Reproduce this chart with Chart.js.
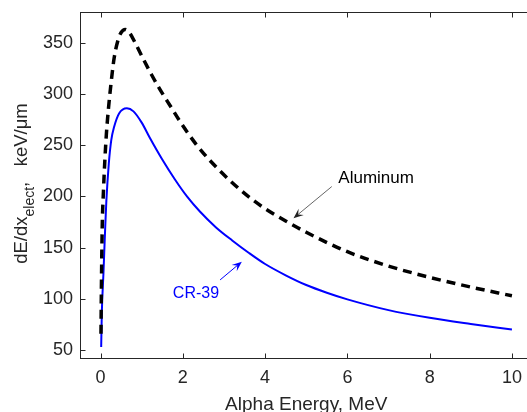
<!DOCTYPE html>
<html>
<head>
<meta charset="utf-8">
<script src="https://cdn.jsdelivr.net/npm/chart.js@4"></script>
<style>
    html, body { margin: 0; padding: 0; background: #fff; overflow: hidden; }
    #wrap { width: 540px; height: 412px; }
</style>
</head>
<body>
<div id="wrap"><canvas id="stoppingChart" width="540" height="412"></canvas></div>
<script>
// Alpha energy (MeV) vs electronic stopping power (keV/um)
const alEnergy   = [0.01, 0.02, 0.04, 0.07, 0.10, 0.14, 0.19, 0.24, 0.33, 0.42, 0.50, 0.60, 0.70, 0.84, 1.04, 1.25, 1.45, 1.70, 1.95, 2.35, 2.90, 3.50, 4.00, 4.50, 5.00, 6.00, 7.00, 8.00, 9.00, 10.0];
const alStopping = [66, 110, 170, 205, 232, 260, 285, 305, 335, 352, 360, 363, 360, 350, 334, 318, 304, 288, 272, 249.5, 225, 203, 188, 176, 165, 146, 132, 121, 111.5, 103];

const crEnergy   = [0.015, 0.03, 0.07, 0.11, 0.14, 0.20, 0.26, 0.33, 0.45, 0.64, 0.80, 1.00, 1.20, 1.50, 1.80, 2.10, 2.42, 2.80, 3.20, 3.60, 4.00, 4.50, 5.00, 5.50, 6.00, 7.00, 8.00, 9.00, 10.0];
const crStopping = [53, 86, 125, 167, 195, 232, 255, 268, 281, 286, 283, 272, 257, 236, 217, 200, 185, 170, 157, 145, 134, 123, 113.5, 106, 99.5, 89, 81.5, 75.5, 70];

const xTicks = [0, 2, 4, 6, 8, 10];
const yTicks = [50, 100, 150, 200, 250, 300, 350];

const xLabel = 'Alpha Energy, MeV';
const yLabel = ['dE/dx', 'elect', ',   keV/\u03bcm'];

// text callouts, placed in data units
const notes = [
    { text: 'Aluminum', at: [5.78, 213], from: [5.62, 209.6], to: [4.69, 178.7], color: '#000', line: '#666', head: '#222', size: 17 },
    { text: 'CR-39', at: [1.757, 100.6], from: [2.906, 118.5], to: [3.434, 136.3], color: '#0000ff', line: '#0000ff', head: '#0000ff', size: 16 }
];

const font = '"Liberation Sans", Arial, Helvetica, sans-serif';
const ink = '#262626';

function drawArrow(ctx, x0, y0, x1, y1, lineColor, headColor) {
    const a = Math.atan2(y1 - y0, x1 - x0);
    const c = Math.cos(a), s = Math.sin(a);
    const len = 10, half = 4;
    ctx.strokeStyle = lineColor;
    ctx.lineWidth = 1;
    ctx.beginPath();
    ctx.moveTo(x0, y0);
    ctx.lineTo(x1 - c * len * 0.6, y1 - s * len * 0.6);
    ctx.stroke();
    ctx.fillStyle = headColor;
    ctx.beginPath();
    ctx.moveTo(x1, y1);
    ctx.lineTo(x1 - len * c + half * s, y1 - len * s - half * c);
    ctx.lineTo(x1 - 0.6 * len * c, y1 - 0.6 * len * s);
    ctx.lineTo(x1 - len * c - half * s, y1 - len * s + half * c);
    ctx.closePath();
    ctx.fill();
}

const chrome = {
    id: 'chrome',
    beforeDatasetsDraw(chart) {
        const { ctx, chartArea: a, scales: { x, y } } = chart;
        ctx.save();
        ctx.strokeStyle = ink;
        ctx.lineWidth = 1;
        const L = Math.round(a.left) + 0.5, R = Math.round(a.right) - 0.5;
        const T = Math.round(a.top) + 0.5, B = Math.round(a.bottom) - 0.5;
        ctx.strokeRect(L, T, R - L, B - T);
        ctx.beginPath();
        xTicks.forEach(v => {
            const px = Math.round(x.getPixelForValue(v)) + 0.5;
            ctx.moveTo(px, B); ctx.lineTo(px, B - 5);
            ctx.moveTo(px, T); ctx.lineTo(px, T + 5);
        });
        yTicks.forEach(v => {
            const py = Math.round(y.getPixelForValue(v)) + 0.5;
            ctx.moveTo(L, py); ctx.lineTo(L + 5, py);
            ctx.moveTo(R, py); ctx.lineTo(R - 5, py);
        });
        ctx.stroke();
        ctx.restore();
    },
    afterDatasetsDraw(chart) {
        const { ctx, scales: { x, y } } = chart;
        ctx.save();
        notes.forEach(n => {
            drawArrow(ctx,
                x.getPixelForValue(n.from[0]), y.getPixelForValue(n.from[1]),
                x.getPixelForValue(n.to[0]), y.getPixelForValue(n.to[1]),
                n.line, n.head);
            ctx.fillStyle = n.color;
            ctx.font = n.size + 'px ' + font;
            ctx.textBaseline = 'alphabetic';
            ctx.textAlign = 'left';
            ctx.fillText(n.text, x.getPixelForValue(n.at[0]), y.getPixelForValue(n.at[1]));
        });
        ctx.restore();
    },
    afterDraw(chart) {
        const { ctx, chartArea: a } = chart;
        ctx.save();
        ctx.fillStyle = ink;
        ctx.textBaseline = 'alphabetic';

        // x title
        ctx.font = '19px ' + font;
        ctx.textAlign = 'center';
        ctx.fillText(xLabel, (a.left + a.right) / 2, 410);

        // y title with subscript, rotated
        ctx.textAlign = 'left';
        const mainFont = '18.5px ' + font, subFont = '14px ' + font;
        ctx.font = mainFont; const w0 = ctx.measureText(yLabel[0]).width;
        ctx.font = subFont; const w1 = ctx.measureText(yLabel[1]).width;
        ctx.font = mainFont; const w2 = ctx.measureText(yLabel[2]).width;
        const total = w0 + w1 + w2;
        ctx.translate(26.5, 183.5);
        ctx.rotate(-Math.PI / 2);
        let cx = -total / 2;
        ctx.font = mainFont; ctx.fillText(yLabel[0], cx, 0); cx += w0;
        ctx.font = subFont; ctx.fillText(yLabel[1], cx, 7); cx += w1;
        ctx.font = mainFont; ctx.fillText(yLabel[2], cx, 0);
        ctx.restore();
    }
};

new Chart(document.getElementById('stoppingChart'), {
    type: 'line',
    data: {
        datasets: [{
            label: 'Aluminum',
            data: alEnergy.map((e, i) => ({ x: e, y: alStopping[i] })),
            borderColor: '#000',
            borderWidth: 3.5,
            borderDash: [9, 6],
            pointRadius: 0,
            cubicInterpolationMode: 'monotone',
            fill: false
        }, {
            label: 'CR-39',
            data: crEnergy.map((e, i) => ({ x: e, y: crStopping[i] })),
            borderColor: '#0000ff',
            borderWidth: 2,
            pointRadius: 0,
            cubicInterpolationMode: 'monotone',
            fill: false
        }]
    },
    options: {
        responsive: false,
        animation: false,
        devicePixelRatio: 1,
        layout: { padding: { top: 12, right: 7.5, left: 0, bottom: 0 } },
        plugins: {
            legend: { display: false },
            tooltip: { enabled: false }
        },
        scales: {
            x: {
                type: 'linear',
                min: -0.5,
                max: 10.5,
                afterBuildTicks: s => { s.ticks = xTicks.map(v => ({ value: v })); },
                afterFit: s => { s.height = 52.7; s.paddingLeft = 0; s.paddingRight = 0; },
                grid: { display: false, drawTicks: false },
                border: { display: false },
                ticks: { color: ink, padding: 8, maxRotation: 0, font: { family: font, size: 18 } }
            },
            y: {
                min: 41,
                max: 380,
                afterBuildTicks: s => { s.ticks = yTicks.map(v => ({ value: v })); },
                afterFit: s => { s.width = 80; s.paddingTop = 0; s.paddingBottom = 0; },
                grid: { display: false, drawTicks: false },
                border: { display: false },
                ticks: { color: ink, padding: 7, font: { family: font, size: 18 } }
            }
        }
    },
    plugins: [chrome]
});
</script>
</body>
</html>
